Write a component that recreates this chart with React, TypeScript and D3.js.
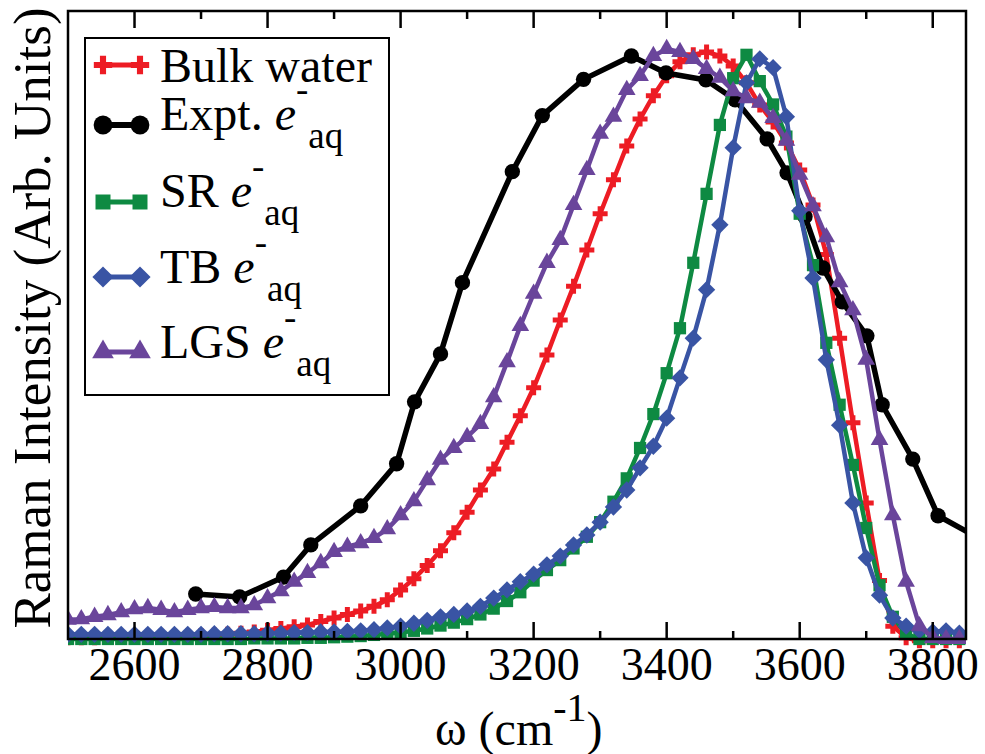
import React from "react";
import * as d3 from "d3";

// ---- data ----
const wavenumbers = [
  2500, 2520, 2540, 2560, 2580, 2600, 2620, 2640, 2660, 2680,
  2700, 2720, 2740, 2760, 2780, 2800, 2820, 2840, 2860, 2880,
  2900, 2920, 2940, 2960, 2980, 3000, 3020, 3040, 3060, 3080,
  3100, 3120, 3140, 3160, 3180, 3200, 3220, 3240, 3260, 3280,
  3300, 3320, 3340, 3360, 3380, 3400, 3420, 3440, 3460, 3480,
  3500, 3520, 3540, 3560, 3580, 3600, 3620, 3640, 3660, 3680,
  3700, 3720, 3740, 3760, 3780, 3800, 3820, 3840,
];

const bulkWater = [
  0.002, 0.002, 0.002, 0.003, 0.003, 0.003, 0.004, 0.004, 0.005, 0.005,
  0.006, 0.007, 0.008, 0.010, 0.012, 0.015, 0.018, 0.021, 0.024, 0.030,
  0.036, 0.042, 0.048, 0.056, 0.067, 0.084, 0.103, 0.126, 0.151, 0.182,
  0.217, 0.255, 0.291, 0.337, 0.382, 0.430, 0.486, 0.546, 0.604, 0.666,
  0.728, 0.786, 0.844, 0.890, 0.930, 0.964, 0.988, 1.000, 1.005, 0.998,
  0.981, 0.952, 0.914, 0.885, 0.849, 0.803, 0.743, 0.658, 0.515, 0.370,
  0.233, 0.100, 0.022, 0.002, -0.003, -0.003, -0.003, -0.003,
];

const srEaq = [
  0.000, 0.000, 0.000, 0.000, 0.000, 0.000, 0.000, 0.000, 0.000, 0.000,
  0.000, 0.000, 0.000, 0.000, 0.001, 0.001, 0.001, 0.001, 0.002, 0.002,
  0.003, 0.004, 0.005, 0.007, 0.009, 0.011, 0.014, 0.018, 0.023, 0.028,
  0.034, 0.042, 0.052, 0.065, 0.080, 0.100, 0.118, 0.135, 0.155, 0.175,
  0.200, 0.235, 0.275, 0.327, 0.385, 0.455, 0.532, 0.644, 0.762, 0.880,
  0.960, 1.000, 0.955, 0.915, 0.860, 0.728, 0.640, 0.507, 0.401, 0.298,
  0.190, 0.092, 0.038, 0.009, 0.000, 0.000, 0.000, 0.000,
];

const tbEaq = [
  0.008, 0.008, 0.008, 0.008, 0.008, 0.008, 0.008, 0.008, 0.008, 0.008,
  0.008, 0.009, 0.009, 0.009, 0.009, 0.010, 0.010, 0.011, 0.011, 0.012,
  0.012, 0.013, 0.014, 0.016, 0.019, 0.022, 0.027, 0.032, 0.038, 0.042,
  0.048, 0.056, 0.070, 0.084, 0.098, 0.111, 0.127, 0.142, 0.161, 0.178,
  0.200, 0.226, 0.255, 0.293, 0.330, 0.378, 0.447, 0.515, 0.598, 0.709,
  0.841, 0.952, 0.993, 0.978, 0.894, 0.733, 0.618, 0.478, 0.366, 0.233,
  0.139, 0.075, 0.036, 0.022, 0.015, 0.012, 0.014, 0.010,
];

const lgsEaq = [
  0.033, 0.034, 0.038, 0.041, 0.046, 0.051, 0.053, 0.050, 0.046, 0.050,
  0.053, 0.055, 0.053, 0.053, 0.058, 0.070, 0.082, 0.098, 0.113, 0.130,
  0.149, 0.158, 0.164, 0.173, 0.188, 0.212, 0.236, 0.272, 0.307, 0.327,
  0.346, 0.368, 0.414, 0.474, 0.536, 0.591, 0.644, 0.683, 0.743, 0.803,
  0.865, 0.894, 0.940, 0.964, 0.998, 1.010, 1.005, 0.993, 0.976, 0.961,
  0.938, 0.926, 0.918, 0.892, 0.853, 0.795, 0.741, 0.688, 0.611, 0.563,
  0.478, 0.341, 0.212, 0.098, 0.022, 0.002, 0.000, 0.000,
];

const exptWavenumbers = [
  2692, 2758, 2824, 2865, 2940, 2994, 3021, 3060, 3093, 3168,
  3213, 3275, 3347, 3399, 3459, 3503, 3551, 3581, 3608, 3635,
  3664, 3701, 3724, 3770, 3808, 3880,
];
const exptEaq = [
  0.077, 0.072, 0.106, 0.161, 0.228, 0.300, 0.406, 0.488, 0.610, 0.800,
  0.896, 0.958, 0.998, 0.969, 0.957, 0.923, 0.856, 0.798, 0.723, 0.635,
  0.577, 0.519, 0.401, 0.308, 0.211, 0.166,
];

const majorTicks = [2600, 2800, 3000, 3200, 3400, 3600, 3800];
const minorTicks = [2700, 2900, 3100, 3300, 3500, 3700];

const diamond = {
  draw(ctx: any, size: number) {
    const r = Math.sqrt(size) / 2;
    ctx.moveTo(0, -r);
    ctx.lineTo(r, 0);
    ctx.lineTo(0, r);
    ctx.lineTo(-r, 0);
    ctx.closePath();
  },
};

const FONT = '"Liberation Serif", "DejaVu Serif", "Times New Roman", serif';
const tf: React.CSSProperties = { fontFamily: FONT };

export default function App() {
  const x = d3.scaleLinear().domain([2500, 3850]).range([68, 966]);
  const y = d3.scaleLinear().domain([0, 1.075]).range([639, 11]);
  const [x0, x1] = x.range();
  const [yb, yt] = y.range();

  const series = [
    { key: "bulk", label: ["Bulk water", ""], color: "#ed1c24", xs: wavenumbers, ys: bulkWater, sym: d3.symbolCross, size: 125, lw: 4.5 },
    { key: "expt", label: ["Expt. ", "e"], color: "#000000", xs: exptWavenumbers, ys: exptEaq, sym: d3.symbolCircle, size: 185, lw: 5.5 },
    { key: "sr", label: ["SR ", "e"], color: "#0e8a42", xs: wavenumbers, ys: srEaq, sym: d3.symbolSquare, size: 150, lw: 4.5 },
    { key: "tb", label: ["TB ", "e"], color: "#3954a4", xs: wavenumbers, ys: tbEaq, sym: diamond, size: 300, lw: 4.5 },
    { key: "lgs", label: ["LGS ", "e"], color: "#6a459b", xs: wavenumbers, ys: lgsEaq, sym: d3.symbolTriangle, size: 135, lw: 4.5 },
  ];

  const legendSymY = [65, 125, 202, 277, 352];
  const legendBase = [82, 130, 207, 283, 358];

  return (
    <div style={{ position: "absolute", left: 0, top: 0 }}>
      <svg width={985} height={754} style={{ display: "block", background: "#fff", fontFamily: FONT }}>
        <defs>
          <clipPath id="plotClip">
            <rect x={x0} y={0} width={x1 - x0} height={754} />
          </clipPath>
        </defs>

        {/* series */}
        <g clipPath="url(#plotClip)">
          {series.map((s) => {
            const pts = s.xs.map((v, i) => [x(v), y(s.ys[i])] as [number, number]);
            const path = d3.line()(pts) || "";
            const symPath = d3.symbol().type(s.sym as any).size(s.size)() || "";
            return (
              <g key={s.key}>
                <path d={path} fill="none" stroke={s.color} strokeWidth={s.lw} strokeLinejoin="round" />
                {pts.map((p, i) => (
                  <path key={i} d={symPath} transform={`translate(${p[0]},${p[1]})`} fill={s.color} />
                ))}
              </g>
            );
          })}
        </g>

        {/* frame */}
        <rect x={x0} y={yt} width={x1 - x0} height={yb - yt} fill="none" stroke="#000" strokeWidth={2.5} />

        {/* ticks */}
        {majorTicks.map((t) => (
          <g key={"M" + t}>
            <line x1={x(t)} x2={x(t)} y1={yb} y2={yb - 17} stroke="#000" strokeWidth={2.5} />
            <line x1={x(t)} x2={x(t)} y1={yt} y2={yt + 17} stroke="#000" strokeWidth={2.5} />
            <text x={x(t)} y={680} textAnchor="middle" fontSize={46} fill="#000" style={tf}>
              {t}
            </text>
          </g>
        ))}
        {minorTicks.map((t) => (
          <g key={"m" + t}>
            <line x1={x(t)} x2={x(t)} y1={yb} y2={yb - 8} stroke="#000" strokeWidth={2.5} />
            <line x1={x(t)} x2={x(t)} y1={yt} y2={yt + 8} stroke="#000" strokeWidth={2.5} />
          </g>
        ))}

        {/* axis titles */}
        <text x={435} y={745} fontSize={48} fill="#000" style={tf}>
          <tspan>ω (cm</tspan>
          <tspan dy={-24} fontSize={40}>-1</tspan>
          <tspan dy={24}>)</tspan>
        </text>
        <text transform={`translate(50,${(yb + yt) / 2 - 7}) rotate(-90)`} textAnchor="middle" fontSize={53} fill="#000" style={tf}>
          Raman Intensity (Arb. Units)
        </text>

        {/* legend */}
        <rect x={85} y={38} width={304} height={357} fill="#fff" stroke="#000" strokeWidth={2} />
        {series.map((s, i) => {
          const symPath = d3.symbol().type(s.sym as any).size(s.size * 1.5)() || "";
          const sy = legendSymY[i];
          return (
            <g key={"lg" + s.key}>
              <line x1={103} x2={140} y1={sy} y2={sy} stroke={s.color} strokeWidth={s.lw + 0.5} />
              <path d={symPath} transform={`translate(103,${sy})`} fill={s.color} />
              <path d={symPath} transform={`translate(140,${sy})`} fill={s.color} />
              <text x={160} y={legendBase[i]} fontSize={48} fill="#000" style={tf}>
                <tspan>{s.label[0]}</tspan>
                {s.label[1] ? (
                  <>
                    <tspan fontStyle="italic">{s.label[1]}</tspan>
                    <tspan dy={-28} fontSize={37}>-</tspan>
                    <tspan dy={46} fontSize={37}>aq</tspan>
                  </>
                ) : null}
              </text>
            </g>
          );
        })}
      </svg>
    </div>
  );
}
